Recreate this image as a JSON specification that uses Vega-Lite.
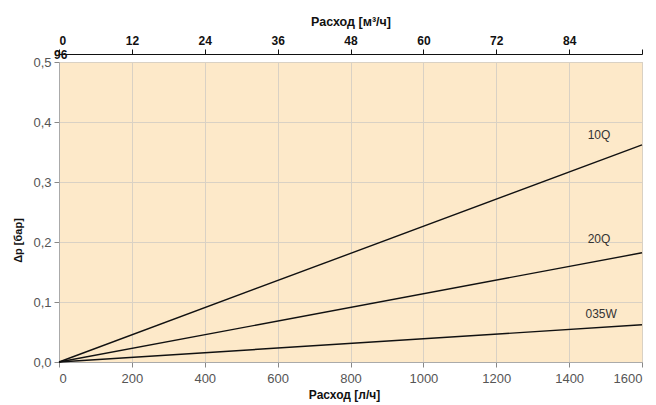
{
  "$schema": "https://vega.github.io/schema/vega-lite/v6.json",
  "width": 583,
  "height": 300,
  "autosize": {"type": "none"},
  "padding": {"left": 59, "top": 62, "right": 14, "bottom": 43},
  "background": "white",
  "config": {
    "font": "Liberation Sans",
    "view": {"fill": "#fde9c9", "stroke": "#c8c0b4", "strokeWidth": 1}
  },
  "datasets": {
    "lines": [
      {"series": "10Q", "flow": 0, "dp": 0},
      {"series": "10Q", "flow": 1600, "dp": 0.362},
      {"series": "20Q", "flow": 0, "dp": 0},
      {"series": "20Q", "flow": 1600, "dp": 0.182},
      {"series": "035W", "flow": 0, "dp": 0},
      {"series": "035W", "flow": 1600, "dp": 0.062}
    ],
    "labels": [
      {"series": "10Q", "flow": 1482, "dp": 0.378},
      {"series": "20Q", "flow": 1482, "dp": 0.205},
      {"series": "035W", "flow": 1488, "dp": 0.080}
    ],
    "top": [{"m3h": 0, "dp": 0.5, "label": "96"}]
  },
  "layer": [
    {
      "layer": [
        {
          "data": {"name": "lines"},
          "mark": {"type": "line", "color": "#111111", "strokeWidth": 1.4},
          "encoding": {
            "x": {
              "field": "flow", "type": "quantitative",
              "scale": {"domain": [0, 1600], "nice": false},
              "axis": {
                "orient": "bottom",
                "values": [0,100,200,300,400,500,600,700,800,900,1000,1100,1200,1300,1400,1500,1600],
                "labelExpr": "datum.value % 200 == 0 ? datum.label : ''",
                "format": "d",
                "grid": true,
                "gridColor": "#d9d1c4",
                "gridOpacity": {"condition": {"test": "datum.value % 200 == 0", "value": 1}, "value": 0},
                "tickSize": {"condition": {"test": "datum.value % 200 == 0", "value": 5}, "value": 2},
                "tickColor": "#888888",
                "domainColor": "#aaaaaa",
                "labelColor": "#555555",
                "labelFontSize": 13,
                "labelPadding": 5,
                "title": "Расход [л/ч]",
                "titleFontWeight": "bold",
                "titleFontSize": 12,
                "titleColor": "#111111",
                "titlePadding": 4,
                "titleX": 285
              }
            },
            "y": {
              "field": "dp", "type": "quantitative",
              "scale": {"domain": [0, 0.5], "nice": false},
              "axis": {
                "values": [0,0.05,0.1,0.15,0.2,0.25,0.3,0.35,0.4,0.45,0.5],
                "labelExpr": "round(datum.value*100) % 10 == 0 ? replace(format(datum.value, '.1f'), '.', ',') : ''",
                "grid": true,
                "gridColor": "#d9d1c4",
                "gridOpacity": {"condition": {"test": "round(datum.value*100) % 10 == 0", "value": 1}, "value": 0},
                "tickSize": {"condition": {"test": "round(datum.value*100) % 10 == 0", "value": 5}, "value": 2},
                "tickColor": "#888888",
                "domainColor": "#aaaaaa",
                "labelColor": "#555555",
                "labelFontSize": 13,
                "labelPadding": 3,
                "title": "Δp [бар]",
                "titleFontWeight": "bold",
                "titleFontSize": 11,
                "titleColor": "#111111",
                "titleX": -36,
                "titleY": 178
              }
            },
            "detail": {"field": "series"}
          }
        },
        {
          "data": {"name": "labels"},
          "mark": {"type": "text", "fontSize": 12, "color": "#333333"},
          "encoding": {
            "x": {"field": "flow", "type": "quantitative"},
            "y": {"field": "dp", "type": "quantitative"},
            "text": {"field": "series"}
          }
        }
      ]
    },
    {
      "data": {"name": "top"},
      "mark": {"type": "text", "align": "left", "dx": -5, "dy": -7, "fontWeight": "bold", "fontSize": 12, "color": "#111111"},
      "encoding": {
        "x": {
          "field": "m3h", "type": "quantitative",
          "scale": {"domain": [0, 96], "nice": false},
          "axis": {
            "orient": "top",
            "values": [0,12,24,36,48,60,72,84,96],
            "labelExpr": "datum.value == 96 ? '' : datum.label",
            "grid": false,
            "offset": 8,
            "domainColor": "#111111",
            "domainWidth": 1.2,
            "tickColor": "#111111",
            "tickSize": 5,
            "labelColor": "#111111",
            "labelFontWeight": "bold",
            "labelFontSize": 12,
            "labelPadding": 2,
            "title": "Расход [м³/ч]",
            "titleFontWeight": "bold",
            "titleFontSize": 12.5,
            "titleColor": "#111111",
            "titlePadding": 6
          }
        },
        "y": {"field": "dp", "type": "quantitative", "scale": {"domain": [0, 0.5], "nice": false}},
        "text": {"field": "label"}
      }
    }
  ],
  "resolve": {"scale": {"x": "independent"}, "axis": {"x": "independent"}}
}
